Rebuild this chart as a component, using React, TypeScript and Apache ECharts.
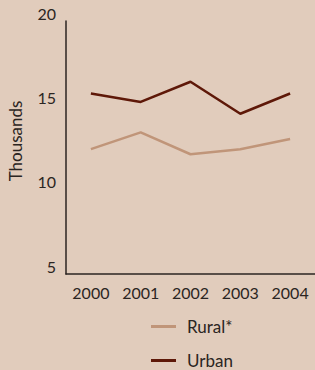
import React, { useEffect, useRef } from "react";
import * as echarts from "echarts";

const years = ["2000", "2001", "2002", "2003", "2004"];
const rural = [12.4, 13.4, 12.1, 12.4, 13.0];
const urban = [15.7, 15.2, 16.4, 14.5, 15.7];
const yTicks = [5, 10, 15, 20];
const seriesNames = ["Rural*", "Urban"];

const FONT = "Lato";
const TEXT = "#2b2522";

export default function App() {
  const ref = useRef<HTMLDivElement>(null);
  useEffect(() => {
    if (!ref.current) return;
    const chart = echarts.init(ref.current, null, { renderer: "svg" });
    const legendBase = {
      orient: "horizontal",
      left: 151,
      padding: 0,
      itemWidth: 25,
      itemHeight: 3,
      icon: "rect",
      textStyle: { color: TEXT, fontSize: 17, fontFamily: FONT, padding: [0, 0, 0, 6] },
    };
    chart.setOption({
      animation: false,
      backgroundColor: "#e1ccbc",
      textStyle: { fontFamily: FONT },
      grid: { left: 66, right: -5, top: 21, bottom: 96, containLabel: false },
      xAxis: {
        type: "category",
        data: years,
        boundaryGap: true,
        axisLine: { lineStyle: { color: TEXT, width: 1.5 } },
        axisTick: { show: false },
        axisLabel: { color: TEXT, fontSize: 16, fontFamily: FONT, margin: 10 },
      },
      yAxis: {
        type: "value",
        min: yTicks[0],
        max: yTicks[yTicks.length - 1],
        interval: 5,
        axisLine: { show: true, lineStyle: { color: TEXT, width: 1.5 } },
        axisTick: { show: false },
        splitLine: { show: false },
        axisLabel: {
          color: TEXT,
          fontSize: 16,
          fontFamily: FONT,
          margin: 10,
          verticalAlign: "bottom",
          lineHeight: 16,
        },
      },
      legend: [
        { ...legendBase, top: 318, data: [seriesNames[0]] },
        { ...legendBase, top: 352, data: [seriesNames[1]] },
      ],
      graphic: [
        {
          type: "text",
          x: 15,
          y: 141,
          rotation: Math.PI / 2,
          style: {
            text: "Thousands",
            fill: TEXT,
            font: `17px ${FONT}`,
            align: "center",
            verticalAlign: "middle",
          },
        },
      ],
      series: [
        {
          name: seriesNames[0],
          type: "line",
          data: rural,
          symbol: "none",
          color: "#c09579",
          lineStyle: { width: 2.5, color: "#c09579" },
        },
        {
          name: seriesNames[1],
          type: "line",
          data: urban,
          symbol: "none",
          color: "#5e1808",
          lineStyle: { width: 2.5, color: "#5e1808" },
        },
      ],
    });
    return () => chart.dispose();
  }, []);
  return (
    <div
      ref={ref}
      style={{ position: "fixed", left: 0, top: 0, width: 315, height: 370 }}
    />
  );
}
